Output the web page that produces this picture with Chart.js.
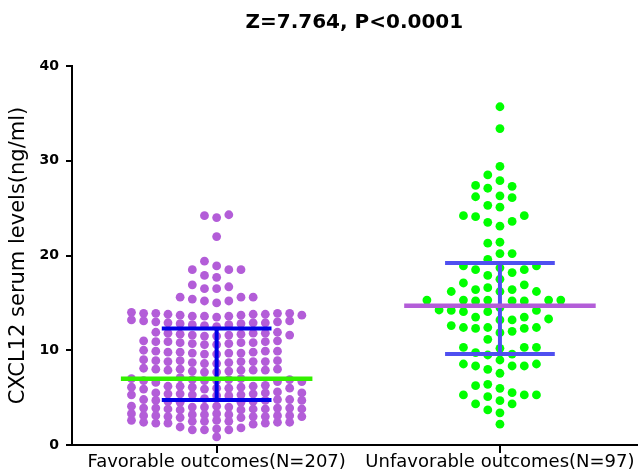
<!DOCTYPE html>
<html>
<head>
<meta charset="utf-8">
<script src="https://cdn.jsdelivr.net/npm/chart.js@4.4.1/dist/chart.umd.min.js"></script>
<style>
  html, body { margin: 0; padding: 0; background: #fff; }
  canvas { display: block; }
</style>
</head>
<body>
<canvas id="swarmChart" width="641" height="476"></canvas>
<script>
// Categories and labels
const groupLabels = ['Favorable outcomes(N=207)', 'Unfavorable outcomes(N=97)'];
const groupPos = [1, 2];
const yTicks = [0, 10, 20, 30, 40];
const chartTitle = 'Z=7.764, P<0.0001';
const yTitle = 'CXCL12 serum levels(ng/ml)';

// CXCL12 values, favorable outcomes (N=207)
const favorable = [
  24.3, 24.0, 24.2, 22.0, 19.4,
  18.9, 18.5, 17.9, 17.7, 18.5, 18.5,
  16.9, 16.5, 16.5, 16.7,
  15.4, 15.2, 15.6, 15.6, 15.6, 15.0, 15.2,
  13.9, 13.7, 13.8, 13.6, 13.9, 14.0, 13.7, 13.8, 13.5, 13.9, 13.6, 13.8, 13.7, 13.9, 13.6,
  13.1, 12.9, 12.8, 13.0, 12.7, 13.2, 12.9, 12.6, 13.0, 12.8, 12.5, 13.1, 12.9, 12.7,
  11.8, 11.6, 11.9, 11.7, 11.5, 11.8, 11.6, 11.9, 11.7, 11.5, 11.8, 11.6,
  10.9, 10.7, 10.8, 11.0, 10.6, 10.9, 10.8, 10.7, 10.9, 10.6, 10.8, 11.0,
  9.9, 9.7, 9.8, 9.6, 9.9, 9.8, 9.7, 10.0, 9.6, 9.8, 9.9, 9.7,
  8.9, 8.7, 8.8, 9.0, 8.6, 8.8, 8.9, 8.7, 8.8, 8.6, 8.9, 8.8,
  8.0, 7.8, 7.9, 8.1, 7.7, 7.9, 8.0, 7.8, 7.9, 7.7, 8.0, 7.9,
  7.0, 6.9, 6.8, 7.1, 6.7, 6.9, 6.8, 7.0, 6.7, 6.9, 6.8, 6.6,
  6.2, 6.0, 6.1, 6.3, 5.9, 6.1, 6.2, 6.0, 6.1, 5.9, 6.2, 6.0,
  5.5, 5.3, 5.4, 5.6, 5.2, 5.4, 5.5, 5.3, 5.4, 5.2, 5.5, 5.3,
  4.8, 4.6, 4.7, 4.9, 4.5, 4.7, 4.8, 4.6, 4.7, 4.5, 4.8,
  4.0, 3.8, 3.9, 4.1, 3.7, 3.9, 4.0, 3.8, 3.9, 3.7, 4.0, 3.8, 3.9, 4.1, 3.8,
  3.2, 3.0, 3.1, 3.3, 2.9, 3.1, 3.2, 3.0, 3.1, 2.9, 3.2, 3.0, 3.1, 3.3, 3.0,
  2.5, 2.3, 2.4, 2.6, 2.2, 2.4, 2.5, 2.3, 2.4, 2.6, 2.3, 2.5,
  1.7, 1.6, 1.6, 1.6, 1.9, 1.8,
  0.85
];

// CXCL12 values, unfavorable outcomes (N=97)
const unfavorable = [
  35.7, 33.4, 29.4, 28.5, 27.9, 27.3, 27.1, 27.4, 26.3, 26.1, 26.2, 25.1, 25.3,
  24.2, 24.1, 23.5, 23.1, 23.6, 24.2, 21.4, 21.3, 20.2, 20.2, 19.6,
  18.9, 18.5, 18.2, 18.5, 18.7, 18.9,
  17.5, 16.9, 16.6, 17.1, 17.9,
  16.4, 16.2, 16.2, 16.2, 16.4,
  15.3, 15.3, 15.2, 15.2, 15.2, 15.3, 15.3, 15.3,
  14.25, 14.2, 14.07, 14.2, 14.07, 14.5,
  13.2, 13.5, 13.3, 13.5, 13.2,
  12.4, 12.4, 12.3, 12.3, 12.4, 12.6,
  12.0, 11.85, 11.15,
  10.2, 10.3, 10.3, 10.3,
  9.5, 9.6, 9.75, 8.97,
  8.55, 8.34, 7.99, 7.57, 8.34, 8.34, 8.55,
  6.26, 5.52, 4.68, 5.28, 4.33, 5.1, 3.7, 5.28, 4.33, 3.4, 5.28, 5.98, 6.4, 2.2
];

// Median and interquartile range per group
const medians = [7.0, 14.7];
const lowerQ = [4.75, 9.6];
const upperQ = [12.3, 19.2];

const dotColors = ['#b35dd8', '#00ff00'];
const medianColors = ['#33f000', '#b35dd8'];
const barColors = ['#0000e6', '#4f4ff0'];
const swarmGap = [8, 11];

const FONT = 'DejaVu Sans';

// place dots on a column grid, closest free column to the centre first
function swarmSlots(values, pxPerUnit, gapPx, maxSlot) {
  const order = values.map((v, i) => i).sort((a, b) => values[a] - values[b]);
  const cols = {};
  const slots = new Array(values.length);
  order.forEach(i => {
    const y = values[i] * pxPerUnit;
    let best = 0, bestGap = -1;
    for (let k = 0; k <= 2 * maxSlot; k++) {
      const s = k === 0 ? 0 : (k % 2 ? -(k + 1) / 2 : k / 2);
      const used = cols[s] || [];
      const near = used.reduce((m, u) => Math.min(m, Math.abs(u - y)), Infinity);
      if (near >= gapPx) { best = s; break; }
      if (near > bestGap) { bestGap = near; best = s; }
    }
    (cols[best] = cols[best] || []).push(y);
    slots[i] = best;
  });
  return slots;
}

function segment(x0, y0, x1, y1, color, width) {
  return {
    type: 'line',
    data: [{ x: x0, y: y0 }, { x: x1, y: y1 }],
    borderColor: color,
    borderWidth: width,
    pointRadius: 0,
    borderCapStyle: 'butt',
    fill: false
  };
}

const ctx = document.getElementById('swarmChart').getContext('2d');

const chart = new Chart(ctx, {
  type: 'scatter',
  data: { datasets: [] },
  options: {
    responsive: false,
    animation: false,
    layout: { padding: { left: 0, right: 3, top: 0, bottom: 0 } },
    plugins: {
      legend: { display: false },
      tooltip: { enabled: false },
      title: {
        display: true,
        text: chartTitle,
        fullSize: false,
        color: '#000',
        font: { family: FONT, size: 20, weight: 'bold', lineHeight: 1.2 },
        padding: { top: 11, bottom: 31 }
      }
    },
    scales: {
      x: {
        type: 'linear',
        min: 0.4894,
        max: 2.4824,
        afterBuildTicks: s => { s.ticks = groupPos.map(v => ({ value: v })); },
        afterFit: s => { s.height = 31; },
        ticks: {
          callback: v => groupLabels[Math.round(v) - 1],
          color: '#000',
          font: { family: FONT, size: 18, lineHeight: 1 },
          maxRotation: 0,
          minRotation: 0,
          autoSkip: false,
          padding: 0
        },
        grid: { drawOnChartArea: false, drawTicks: true, tickLength: 8, color: '#000', lineWidth: 2 },
        border: { display: true, color: '#000', width: 2 }
      },
      y: {
        min: 0,
        max: 40,
        afterBuildTicks: s => { s.ticks = yTicks.map(v => ({ value: v })); },
        afterFit: s => { s.width = 72; },
        ticks: {
          color: '#000',
          font: { family: FONT, size: 14, weight: 'bold' },
          padding: 7
        },
        grid: { drawOnChartArea: false, drawTicks: true, tickLength: 6, color: '#000', lineWidth: 2 },
        border: { display: true, color: '#000', width: 2 },
        title: {
          display: true,
          text: yTitle,
          color: '#000',
          font: { family: FONT, size: 21 },
          padding: { top: 6, bottom: 0 }
        }
      }
    }
  }
});

// build the marks once the scales know their pixel sizes
const xs = chart.scales.x;
const ys = chart.scales.y;
const pxX = xs.getPixelForValue(1) - xs.getPixelForValue(0);
const pxY = ys.getPixelForValue(0) - ys.getPixelForValue(1);
const slotPx = 12.2;
const toX = px => px / pxX;

const groups = [favorable, unfavorable];
const lineSets = [];
const dotSets = [];

groups.forEach((vals, g) => {
  const c = groupPos[g];
  const slots = swarmSlots(vals, pxY, swarmGap[g], 7);
  dotSets.push({
    type: 'scatter',
    data: vals.map((v, i) => ({ x: c + toX(slots[i] * slotPx), y: v })),
    backgroundColor: dotColors[g],
    borderWidth: 0,
    pointRadius: 4.4
  });
  lineSets.push(segment(c - toX(96), medians[g], c + toX(96), medians[g], medianColors[g], 4.5));
  lineSets.push(segment(c, lowerQ[g], c, upperQ[g], barColors[g], 4));
  lineSets.push(segment(c - toX(55), upperQ[g], c + toX(55), upperQ[g], barColors[g], 4));
  lineSets.push(segment(c - toX(55), lowerQ[g], c + toX(55), lowerQ[g], barColors[g], 4));
});

chart.data.datasets = lineSets.concat(dotSets);
chart.update('none');
</script>
</body>
</html>
